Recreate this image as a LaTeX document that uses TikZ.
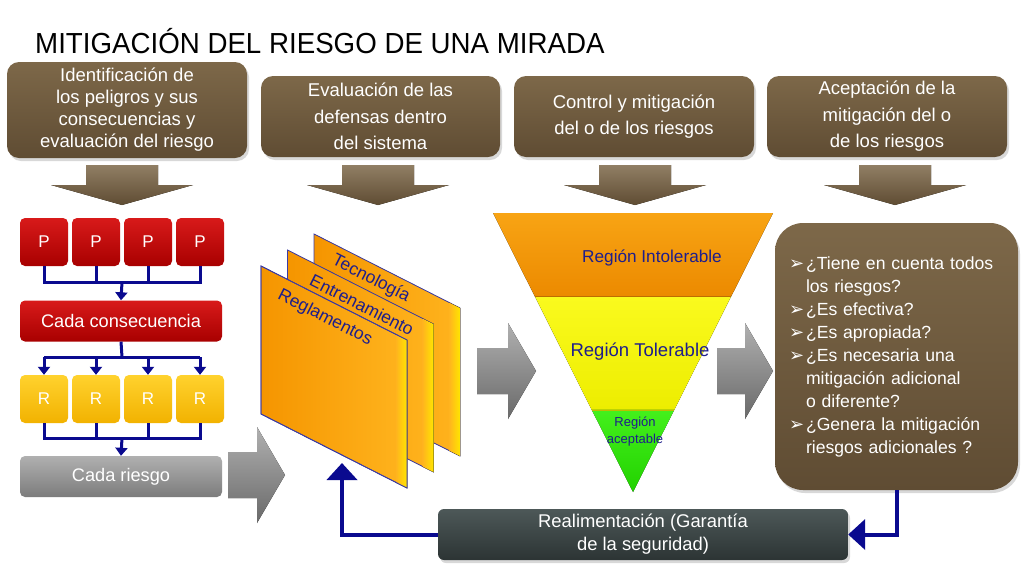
\documentclass[tikz,border=0pt]{standalone}
\usepackage{graphicx}
\usepackage{fontspec}
\setmainfont{Liberation Sans}
\newfontfamily\dejavu{DejaVu Sans}
\usetikzlibrary{arrows.meta,calc,shadows}
\definecolor{brownA}{HTML}{7D6849}
\definecolor{brownB}{HTML}{5F4C33}
\definecolor{redA}{HTML}{D81A1A}
\definecolor{redB}{HTML}{A80000}
\definecolor{goldA}{HTML}{FFD22E}
\definecolor{goldB}{HTML}{F2B200}
\definecolor{grayA}{HTML}{B0B0B0}
\definecolor{grayB}{HTML}{7C7C7C}
\definecolor{slateA}{HTML}{4D5858}
\definecolor{slateB}{HTML}{2C3434}
\definecolor{blueC}{HTML}{0A0A8F}
\definecolor{txtblue}{HTML}{1E1E8C}
\definecolor{planeA}{HTML}{F59500}
\definecolor{planeB}{HTML}{FFB41E}
\definecolor{orA}{HTML}{F8A414}
\definecolor{orB}{HTML}{EC8A00}
\definecolor{yeA}{HTML}{FAFA1E}
\definecolor{yeB}{HTML}{EDED00}
\definecolor{grA}{HTML}{44F01C}
\definecolor{grB}{HTML}{22D200}
\newcommand\Bul{\makebox[17pt][l]{\dejavu\fontsize{18}{18}\selectfont\char"27A2}}
\newcommand\Ind{\hspace*{17pt}}
\newcommand\BrArrow[1]{%
  \fill[top color=brownA!85!white, bottom color=brownB] (#1-36,165) -- (#1+36,165) -- (#1+36,185) -- (#1+71,185) -- (#1,205) -- (#1-71,185) -- (#1-36,185) -- cycle;}
\newcommand\GrArrow[3]{% x0, shaft end, center y
  \fill[top color=grayA, bottom color=grayB!85!black] (#1,#3-23) -- (#2,#3-23) -- (#2,#3-48) -- (#2+28,#3) -- (#2,#3+48) -- (#2,#3+23) -- (#1,#3+23) -- cycle;}
\tikzset{
  brownbox/.style={rounded corners=12pt, top color=brownA, bottom color=brownB, text=white, align=center,
    inner sep=0pt, drop shadow={opacity=0.3, shadow xshift=2pt, shadow yshift=-3pt}},
  pbox/.style={rounded corners=5pt, top color=redA, bottom color=redB, minimum width=48pt, minimum height=48pt,
    text=white, font=\fontsize{17}{18}\selectfont, inner sep=0pt},
  rbox/.style={pbox, top color=goldA, bottom color=goldB},
  widebox/.style={rounded corners=5pt, minimum width=202pt, minimum height=41pt, text=white,
    font=\fontsize{18.2}{20}\selectfont, inner sep=0pt},
  bl/.style={draw=blueC, line width=3pt},
  blarr/.style={bl, -{Triangle[length=8pt,width=12pt]}},
  bigarr/.style={draw=blueC, line width=4pt, -{Triangle[length=17pt,width=30pt]}},
  planetext/.style={text=txtblue, font=\fontsize{17.5}{20}\selectfont, rotate=-26.9, inner sep=0pt},
  plane/.style={draw=blueC!80, line width=0.8pt, left color=planeA, right color=planeB},
  funtext/.style={text=txtblue, align=center, inner sep=0pt}
}
\begin{document}
\begin{tikzpicture}[x=1pt,y=-1pt]
\useasboundingbox (0,0) rectangle (1024,579);
\fill[white] (0,0) rectangle (1024,579);

% title
\node[anchor=base west, inner sep=0pt] (title) at (35,53)
  {\scalebox{0.955}[1]{\fontsize{29}{30}\selectfont MITIGACIÓN DEL RIESGO DE UNA MIRADA}};

% top boxes
\node[brownbox, minimum width=240pt, minimum height=96pt, font=\fontsize{18.5}{22}\selectfont] (b1) at (127,110)
  {Identificación de\\los peligros y sus\\consecuencias y\\evaluación del riesgo};
\node[brownbox, minimum width=239pt, minimum height=81pt, font=\fontsize{18.5}{26.5}\selectfont] (b2) at (380.5,116.5)
  {Evaluación de las\\defensas dentro\\del sistema};
\node[brownbox, minimum width=240pt, minimum height=81pt, font=\fontsize{18.5}{26.5}\selectfont] (b3) at (634,116.5)
  {Control y mitigación\\del o de los riesgos};
\node[brownbox, minimum width=240pt, minimum height=81pt, font=\fontsize{18.5}{26.5}\selectfont] (b4) at (887,116.5)
  {Aceptación de la\\mitigación del o\\de los riesgos};

% down arrows
\BrArrow{122}
\BrArrow{378}
\BrArrow{635}
\BrArrow{895}

% left column
\foreach \i/\x in {1/44,2/96,3/148,4/200}{
  \node[pbox] (p\i) at (\x,242) {P};
  \node[rbox] (r\i) at (\x,399) {R};
}
\node[widebox, top color=redA, bottom color=redB] (cc) at (121,321) {Cada consecuencia};
\node[widebox, top color=grayA, bottom color=grayB] (cr) at (121,476.5) {Cada riesgo};

\coordinate (j1) at (122,282);
\coordinate (j2) at (122,357);
\coordinate (j3) at (122,438);
\draw[bl] (p1.south) -- (p1.south |- j1) -- (p4.south |- j1) -- (p4.south);
\draw[bl] (p2.south) -- (p2.south |- j1);
\draw[bl] (p3.south) -- (p3.south |- j1);
\draw[blarr] (j1) -- (cc.north);
\draw[bl] (cc.south) -- (j2);
\draw[bl] (p1.south |- j2) -- (p4.south |- j2);
\foreach \i in {1,2,3,4}{ \draw[blarr] (r\i.north |- j2) -- (r\i.north); }
\draw[bl] (r1.south) -- (r1.south |- j3) -- (r4.south |- j3) -- (r4.south);
\draw[bl] (r2.south) -- (r2.south |- j3);
\draw[bl] (r3.south) -- (r3.south |- j3);
\draw[blarr] (j3) -- (cr.north);

% gray arrows
\GrArrow{228}{257}{475}
\GrArrow{477}{508}{371}
\GrArrow{717}{745}{371}

% planes
\filldraw[plane] (314,234) -- (460,308) -- (460,456) -- (314,383) -- cycle;
\fill[left color=planeB, right color=yellow!80!orange] (449,302.5) -- (460,308) -- (460,456) -- (449,450.5) -- cycle;
\filldraw[plane] (287.5,250) -- (433.5,324) -- (433.5,472) -- (287.5,398) -- cycle;
\fill[left color=planeB, right color=yellow!80!orange] (422.5,318.5) -- (433.5,324) -- (433.5,472) -- (422.5,466.5) -- cycle;
\filldraw[plane] (261,266) -- (407,340) -- (407,488) -- (261,414) -- cycle;
\fill[left color=planeB, right color=yellow!80!orange] (396,334.5) -- (407,340) -- (407,488) -- (396,482.5) -- cycle;
\draw[draw=blueC!80, line width=0.8pt] (261,266) -- (407,340) -- (407,488) -- (261,414) -- cycle;
\node[planetext] (tec) at (371,279) {Tecnología};
\node[planetext] (ent) at (362,305) {Entrenamiento};
\node[planetext] (reg) at (325,318) {Reglamentos};

% funnel
\coordinate (fa) at (493,213);
\coordinate (fb) at (773,213);
\coordinate (fc) at (633,492);
\coordinate (f1l) at ($(fa)!0.2975!(fc)$);
\coordinate (f1r) at ($(fb)!0.2975!(fc)$);
\coordinate (f2l) at ($(fa)!0.706!(fc)$);
\coordinate (f2r) at ($(fb)!0.706!(fc)$);
\fill[top color=orA, bottom color=orB] (fa) -- (fb) -- (f1r) -- (f1l) -- cycle;
\fill[top color=yeA, bottom color=yeB] (f1l) -- (f1r) -- (f2r) -- (f2l) -- cycle;
\fill[top color=grA, bottom color=grB] (f2l) -- (f2r) -- (fc) -- cycle;
\draw[orB!80!black, line width=0.6pt] (f1l) -- (f1r);
\draw[yeB!80!black, line width=0.4pt] (f2l) -- (f2r);
\node[funtext, font=\fontsize{17.2}{18}\selectfont] (ri) at (652,258) {Región Intolerable};
\node[funtext, font=\fontsize{18.5}{20}\selectfont] (rt) at (640,352) {Región Tolerable};
\node[funtext, font=\fontsize{13}{17}\selectfont] (ra) at (635,431.5) {Región\\aceptable};

% right box
\node[brownbox, rounded corners=28pt, minimum width=243pt, minimum height=267pt, text width=215pt, align=left,
  font=\fontsize{17.6}{23}\selectfont] (rb) at (896.5,356.5)
  {\Bul¿Tiene en cuenta todos\\
   \Ind los riesgos?\\
   \Bul¿Es efectiva?\\
   \Bul¿Es apropiada?\\
   \Bul¿Es necesaria una\\
   \Ind mitigación adicional\\
   \Ind o diferente?\\
   \Bul¿Genera la mitigación\\
   \Ind riesgos adicionales ?};

% feedback box
\node[rounded corners=6pt, top color=slateA, bottom color=slateB, minimum width=410pt, minimum height=51pt,
  text=white, align=center, inner sep=0pt, font=\fontsize{18.4}{23}\selectfont,
  drop shadow={opacity=0.3, shadow xshift=2pt, shadow yshift=-3pt}] (fbk) at (643,534.5)
  {Realimentación (Garantía\\de la seguridad)};
\coordinate (fbtip) at (342,463);
\draw[bigarr] (rb.south) |- (fbk.east);
\draw[bigarr] (fbk.west) -| (fbtip);
\end{tikzpicture}
\end{document}
